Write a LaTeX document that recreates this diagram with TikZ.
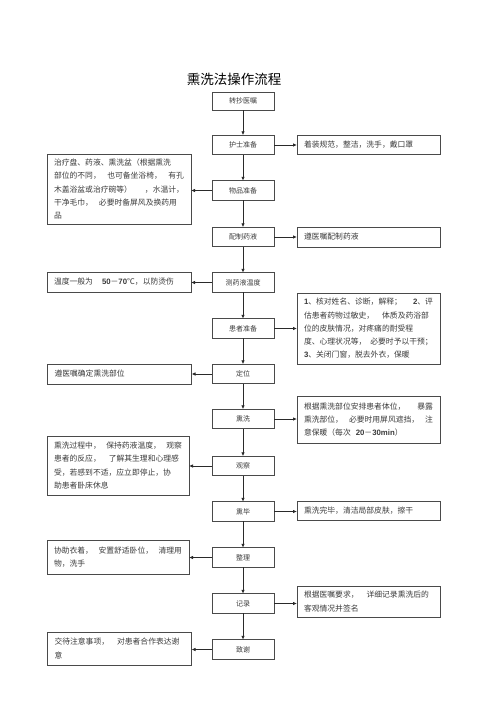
\documentclass[tikz,border=0pt]{standalone}
\usepackage{fontspec}
\setmainfont{Noto Sans CJK SC}
\newfontfamily\lat{Liberation Sans}
\usetikzlibrary{arrows.meta}
\newcommand{\dg}[1]{{\lat\bfseries #1}}
\newcommand{\gap}{\hskip 0pt plus 1filll\relax}
\definecolor{boxc}{HTML}{4A4A4A}
\definecolor{txtc}{HTML}{3A3A3A}
\definecolor{linec}{HTML}{2A2A2A}
\begin{document}
\begin{tikzpicture}[x=1pt,y=-1pt,
  every node/.style={inner sep=0pt, outer sep=0pt},
  mainbox/.style={draw=boxc, line width=0.8pt, minimum width=62pt, minimum height=19.5pt, font=\fontsize{7}{9}\selectfont, text=txtc},
  sidebox/.style={draw=boxc, line width=0.8pt, text width=130pt, inner xsep=7pt, align=left, font=\fontsize{7.8}{13.2}\selectfont, text=txtc},
  arr/.style={draw=linec, line width=0.8pt, -{Latex[length=4pt,width=3.5pt]}},
]
\useasboundingbox (0,0) rectangle (500,709);
\node[font=\fontsize{13.5}{15}\selectfont, text=black] (title) at (234,79) {熏洗法操作流程};

% center column
\node[mainbox, minimum height=18pt] (c1) at (243,101) {转抄医嘱};
\node[mainbox] (c2) at (243,145) {护士准备};
\node[mainbox] (c3) at (243,190.5) {物品准备};
\node[mainbox] (c4) at (243,237) {配制药液};
\node[mainbox] (c5) at (243,282.5) {测药液温度};
\node[mainbox] (c6) at (243,328.5) {患者准备};
\node[mainbox] (c7) at (243,374) {定位};
\node[mainbox] (c8) at (243,419) {熏洗};
\node[mainbox] (c9) at (243,466) {观察};
\node[mainbox] (c10) at (243,511.5) {熏毕};
\node[mainbox] (c11) at (243,557.5) {整理};
\node[mainbox] (c12) at (243,603.5) {记录};
\node[mainbox] (c13) at (243,649.5) {致谢};

% right boxes
\node[sidebox, text width=129pt, minimum height=19pt] (r1) at (368.5,144.5) {着装规范，整洁，洗手，戴口罩};
\node[sidebox, text width=129pt, minimum height=20pt] (r2) at (368.5,237) {遵医嘱配制药液};
\node[sidebox, text width=129pt, minimum height=71pt] (r3) at (368.5,328.5) {\dg{1}、核对姓名、诊断，解释；\gap\dg{2}、评\\估患者药物过敏史，\hspace{8pt}体质及药浴部\\位的皮肤情况，对疼痛的耐受程\\度、心理状况等，\hspace{4pt}必要时予以干预；\\\dg{3}、关闭门窗，脱去外衣，保暖};
\node[sidebox, text width=129pt, minimum height=47pt] (r4) at (368.5,419.5) {根据熏洗部位安排患者体位，\gap 暴露\\熏洗部位，\gap 必要时用屏风遮挡，\gap 注\\意保暖（每次\hspace{5pt}\dg{20}－\dg{30min}）};
\node[sidebox, text width=129pt, minimum height=19pt] (r5) at (368.5,511) {熏洗完毕，清洁局部皮肤，擦干};
\node[sidebox, text width=129pt, minimum height=31pt] (r6) at (368.5,601.5) {根据医嘱要求，\hspace{8pt}详细记录熏洗后的\\客观情况并签名};

% left boxes
\node[sidebox, minimum height=70pt] (l1) at (119,189) {治疗盘、药液、熏洗盆（根据熏洗\\部位的不同，\gap 也可备坐浴椅，\gap 有孔\\木盖浴盆或治疗碗等）\gap ，水温计，\\干净毛巾，\hspace{6pt}必要时备屏风及换药用\\品};
\node[sidebox, minimum height=20pt] (l2) at (119,282) {温度一般为\hspace{9pt}\dg{50}－\dg{70}℃，以防烫伤};
\node[sidebox, minimum height=20pt] (l3) at (119.5,374) {遵医嘱确定熏洗部位};
\node[sidebox, text width=128pt, minimum height=59pt] (l4) at (118,465.5) {熏洗过程中，\gap 保持药液温度，\gap 观察\\患者的反应，\hspace{8pt}了解其生理和心理感\\受，若感到不适，应立即停止，协\\助患者卧床休息};
\node[sidebox, text width=128pt, minimum height=34pt] (l5) at (118,557) {协助衣着，\gap 安置舒适卧位，\gap 清理用\\物，洗手};
\node[sidebox, minimum height=33pt] (l6) at (119.5,648.5) {交待注意事项，\hspace{8pt}对患者合作表达谢\\意};

% vertical arrows
\foreach \a/\b in {c1/c2,c2/c3,c3/c4,c4/c5,c5/c6,c6/c7,c7/c8,c8/c9,c9/c10,c10/c11,c11/c12,c12/c13}
  \draw[arr] (\a.south) -- (\b.north);

% right arrows
\foreach \a/\b in {c2/r1,c4/r2,c6/r3,c8/r4,c10/r5,c12/r6}
  \draw[arr] (\a.east) -- (\a.east -| \b.west);

% left arrows
\foreach \a/\b in {c3/l1,c5/l2,c7/l3,c9/l4,c11/l5,c13/l6}
  \draw[arr] (\a.west) -- (\a.west -| \b.east);
\end{tikzpicture}
\end{document}
